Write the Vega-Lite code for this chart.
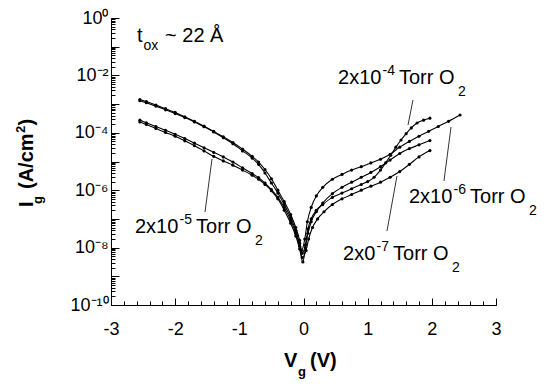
{
  "$schema": "https://vega.github.io/schema/vega-lite/v6.json",
  "width": 385,
  "height": 287,
  "autosize": {"type": "none"},
  "padding": {"left": 111, "top": 18, "right": 49, "bottom": 80},
  "background": "white",
  "config": {
    "view": {"stroke": null},
    "font": "Liberation Sans",
    "axis": {"grid": false, "domainColor": "black", "tickColor": "black", "labelColor": "black", "labelFont": "Liberation Sans", "domainWidth": 1, "tickWidth": 1}
  },
  "datasets": {
    "curves": [
      {"s": "2x10-4", "v": -2.55, "i": 1.318e-3}, {"s": "2x10-4", "v": -2.45, "i": 1.122e-3}, {"s": "2x10-4", "v": -2.3, "i": 8.511e-4}, {"s": "2x10-4", "v": -2.15, "i": 6.31e-4}, {"s": "2x10-4", "v": -2.0, "i": 4.677e-4}, {"s": "2x10-4", "v": -1.85, "i": 3.388e-4}, {"s": "2x10-4", "v": -1.7, "i": 2.399e-4}, {"s": "2x10-4", "v": -1.55, "i": 1.622e-4}, {"s": "2x10-4", "v": -1.4, "i": 1.072e-4}, {"s": "2x10-4", "v": -1.25, "i": 6.761e-5}, {"s": "2x10-4", "v": -1.1, "i": 4.169e-5}, {"s": "2x10-4", "v": -0.95, "i": 2.344e-5}, {"s": "2x10-4", "v": -0.8, "i": 1.318e-5}, {"s": "2x10-4", "v": -0.7, "i": 7.943e-6}, {"s": "2x10-4", "v": -0.6, "i": 3.981e-6}, {"s": "2x10-4", "v": -0.5, "i": 1.778e-6}, {"s": "2x10-4", "v": -0.4, "i": 7.943e-7}, {"s": "2x10-4", "v": -0.3, "i": 3.162e-7}, {"s": "2x10-4", "v": -0.2, "i": 1.122e-7}, {"s": "2x10-4", "v": -0.12, "i": 3.981e-8}, {"s": "2x10-4", "v": -0.06, "i": 1.413e-8}, {"s": "2x10-4", "v": -0.02, "i": 6.31e-9},
      {"s": "2x10-4", "v": 0.03, "i": 1.259e-8}, {"s": "2x10-4", "v": 0.07, "i": 4.467e-8}, {"s": "2x10-4", "v": 0.12, "i": 1.0e-7}, {"s": "2x10-4", "v": 0.2, "i": 1.995e-7}, {"s": "2x10-4", "v": 0.3, "i": 3.162e-7}, {"s": "2x10-4", "v": 0.45, "i": 5.623e-7}, {"s": "2x10-4", "v": 0.6, "i": 7.943e-7}, {"s": "2x10-4", "v": 0.75, "i": 1.122e-6}, {"s": "2x10-4", "v": 0.9, "i": 1.585e-6}, {"s": "2x10-4", "v": 1.0, "i": 1.995e-6}, {"s": "2x10-4", "v": 1.1, "i": 2.818e-6}, {"s": "2x10-4", "v": 1.2, "i": 5.012e-6}, {"s": "2x10-4", "v": 1.28, "i": 8.913e-6}, {"s": "2x10-4", "v": 1.36, "i": 1.66e-5}, {"s": "2x10-4", "v": 1.44, "i": 3.162e-5}, {"s": "2x10-4", "v": 1.52, "i": 5.623e-5}, {"s": "2x10-4", "v": 1.6, "i": 9.333e-5}, {"s": "2x10-4", "v": 1.68, "i": 1.479e-4}, {"s": "2x10-4", "v": 1.77, "i": 2.188e-4}, {"s": "2x10-4", "v": 1.87, "i": 2.754e-4}, {"s": "2x10-4", "v": 1.97, "i": 3.236e-4},

      {"s": "2x10-6", "v": -2.55, "i": 1.445e-3}, {"s": "2x10-6", "v": -2.45, "i": 1.23e-3}, {"s": "2x10-6", "v": -2.3, "i": 9.333e-4}, {"s": "2x10-6", "v": -2.15, "i": 6.918e-4}, {"s": "2x10-6", "v": -2.0, "i": 5.129e-4}, {"s": "2x10-6", "v": -1.85, "i": 3.631e-4}, {"s": "2x10-6", "v": -1.7, "i": 2.512e-4}, {"s": "2x10-6", "v": -1.55, "i": 1.698e-4}, {"s": "2x10-6", "v": -1.4, "i": 1.122e-4}, {"s": "2x10-6", "v": -1.25, "i": 7.244e-5}, {"s": "2x10-6", "v": -1.1, "i": 4.571e-5}, {"s": "2x10-6", "v": -0.95, "i": 2.692e-5}, {"s": "2x10-6", "v": -0.8, "i": 1.514e-5}, {"s": "2x10-6", "v": -0.7, "i": 9.55e-6}, {"s": "2x10-6", "v": -0.6, "i": 5.248e-6}, {"s": "2x10-6", "v": -0.5, "i": 2.512e-6}, {"s": "2x10-6", "v": -0.4, "i": 1.0e-6}, {"s": "2x10-6", "v": -0.3, "i": 3.981e-7}, {"s": "2x10-6", "v": -0.2, "i": 1.413e-7}, {"s": "2x10-6", "v": -0.12, "i": 5.012e-8}, {"s": "2x10-6", "v": -0.06, "i": 1.778e-8}, {"s": "2x10-6", "v": -0.03, "i": 7.943e-9},
      {"s": "2x10-6", "v": 0.02, "i": 1.995e-8}, {"s": "2x10-6", "v": 0.06, "i": 7.943e-8}, {"s": "2x10-6", "v": 0.12, "i": 2.512e-7}, {"s": "2x10-6", "v": 0.2, "i": 6.31e-7}, {"s": "2x10-6", "v": 0.3, "i": 1.259e-6}, {"s": "2x10-6", "v": 0.45, "i": 2.399e-6}, {"s": "2x10-6", "v": 0.6, "i": 3.548e-6}, {"s": "2x10-6", "v": 0.75, "i": 5.012e-6}, {"s": "2x10-6", "v": 0.9, "i": 6.607e-6}, {"s": "2x10-6", "v": 1.05, "i": 8.913e-6}, {"s": "2x10-6", "v": 1.2, "i": 1.202e-5}, {"s": "2x10-6", "v": 1.35, "i": 1.778e-5}, {"s": "2x10-6", "v": 1.5, "i": 3.162e-5}, {"s": "2x10-6", "v": 1.65, "i": 5.012e-5}, {"s": "2x10-6", "v": 1.8, "i": 7.586e-5}, {"s": "2x10-6", "v": 1.95, "i": 1.122e-4}, {"s": "2x10-6", "v": 2.1, "i": 1.66e-4}, {"s": "2x10-6", "v": 2.26, "i": 2.512e-4}, {"s": "2x10-6", "v": 2.44, "i": 4.169e-4},

      {"s": "2x10-5", "v": -2.55, "i": 2.399e-4}, {"s": "2x10-5", "v": -2.45, "i": 1.95e-4}, {"s": "2x10-5", "v": -2.3, "i": 1.413e-4}, {"s": "2x10-5", "v": -2.15, "i": 1.023e-4}, {"s": "2x10-5", "v": -2.0, "i": 7.586e-5}, {"s": "2x10-5", "v": -1.85, "i": 5.248e-5}, {"s": "2x10-5", "v": -1.7, "i": 3.548e-5}, {"s": "2x10-5", "v": -1.55, "i": 2.344e-5}, {"s": "2x10-5", "v": -1.4, "i": 1.514e-5}, {"s": "2x10-5", "v": -1.25, "i": 1.047e-5}, {"s": "2x10-5", "v": -1.1, "i": 7.413e-6}, {"s": "2x10-5", "v": -0.95, "i": 5.012e-6}, {"s": "2x10-5", "v": -0.8, "i": 3.311e-6}, {"s": "2x10-5", "v": -0.7, "i": 2.399e-6}, {"s": "2x10-5", "v": -0.6, "i": 1.585e-6}, {"s": "2x10-5", "v": -0.5, "i": 9.55e-7}, {"s": "2x10-5", "v": -0.4, "i": 5.012e-7}, {"s": "2x10-5", "v": -0.3, "i": 1.995e-7}, {"s": "2x10-5", "v": -0.2, "i": 7.079e-8}, {"s": "2x10-5", "v": -0.12, "i": 2.512e-8}, {"s": "2x10-5", "v": -0.06, "i": 8.913e-9}, {"s": "2x10-5", "v": -0.01, "i": 3.162e-9},
      {"s": "2x10-5", "v": 0.03, "i": 1.0e-8}, {"s": "2x10-5", "v": 0.07, "i": 3.162e-8}, {"s": "2x10-5", "v": 0.12, "i": 7.943e-8}, {"s": "2x10-5", "v": 0.2, "i": 1.778e-7}, {"s": "2x10-5", "v": 0.3, "i": 3.548e-7}, {"s": "2x10-5", "v": 0.45, "i": 7.586e-7}, {"s": "2x10-5", "v": 0.6, "i": 1.259e-6}, {"s": "2x10-5", "v": 0.75, "i": 1.905e-6}, {"s": "2x10-5", "v": 0.9, "i": 2.818e-6}, {"s": "2x10-5", "v": 1.05, "i": 4.169e-6}, {"s": "2x10-5", "v": 1.2, "i": 6.607e-6}, {"s": "2x10-5", "v": 1.35, "i": 1.122e-5}, {"s": "2x10-5", "v": 1.5, "i": 1.905e-5}, {"s": "2x10-5", "v": 1.65, "i": 2.818e-5}, {"s": "2x10-5", "v": 1.8, "i": 3.802e-5}, {"s": "2x10-5", "v": 1.97, "i": 5.37e-5},

      {"s": "2x10-7", "v": -2.55, "i": 2.754e-4}, {"s": "2x10-7", "v": -2.45, "i": 2.239e-4}, {"s": "2x10-7", "v": -2.3, "i": 1.66e-4}, {"s": "2x10-7", "v": -2.15, "i": 1.23e-4}, {"s": "2x10-7", "v": -2.0, "i": 8.913e-5}, {"s": "2x10-7", "v": -1.85, "i": 6.31e-5}, {"s": "2x10-7", "v": -1.7, "i": 4.365e-5}, {"s": "2x10-7", "v": -1.55, "i": 3.02e-5}, {"s": "2x10-7", "v": -1.4, "i": 2.089e-5}, {"s": "2x10-7", "v": -1.25, "i": 1.445e-5}, {"s": "2x10-7", "v": -1.1, "i": 9.55e-6}, {"s": "2x10-7", "v": -0.95, "i": 6.026e-6}, {"s": "2x10-7", "v": -0.8, "i": 3.802e-6}, {"s": "2x10-7", "v": -0.7, "i": 2.754e-6}, {"s": "2x10-7", "v": -0.6, "i": 1.778e-6}, {"s": "2x10-7", "v": -0.5, "i": 1.047e-6}, {"s": "2x10-7", "v": -0.4, "i": 5.623e-7}, {"s": "2x10-7", "v": -0.3, "i": 2.512e-7}, {"s": "2x10-7", "v": -0.2, "i": 8.913e-8}, {"s": "2x10-7", "v": -0.12, "i": 3.162e-8}, {"s": "2x10-7", "v": -0.06, "i": 1.122e-8}, {"s": "2x10-7", "v": -0.02, "i": 4.467e-9},
      {"s": "2x10-7", "v": 0.04, "i": 7.943e-9}, {"s": "2x10-7", "v": 0.08, "i": 1.995e-8}, {"s": "2x10-7", "v": 0.14, "i": 5.012e-8}, {"s": "2x10-7", "v": 0.22, "i": 1.0e-7}, {"s": "2x10-7", "v": 0.32, "i": 1.778e-7}, {"s": "2x10-7", "v": 0.45, "i": 3.162e-7}, {"s": "2x10-7", "v": 0.6, "i": 5.012e-7}, {"s": "2x10-7", "v": 0.75, "i": 7.079e-7}, {"s": "2x10-7", "v": 0.9, "i": 1.0e-6}, {"s": "2x10-7", "v": 1.05, "i": 1.38e-6}, {"s": "2x10-7", "v": 1.2, "i": 1.905e-6}, {"s": "2x10-7", "v": 1.35, "i": 2.818e-6}, {"s": "2x10-7", "v": 1.5, "i": 4.467e-6}, {"s": "2x10-7", "v": 1.65, "i": 7.943e-6}, {"s": "2x10-7", "v": 1.8, "i": 1.445e-5}, {"s": "2x10-7", "v": 1.97, "i": 2.399e-5}
    ],
    "words": [
      {"v": -2.595, "i": 0.146, "t": "t"},
      {"v": -2.158, "i": 0.146, "t": "~ 22 Å"},
      {"v": 0.538, "i": 5.01e-3, "t": "2x10"},
      {"v": 1.488, "i": 5.01e-3, "t": "Torr O"},
      {"v": 1.644, "i": 3.58e-7, "t": "2x10"},
      {"v": 2.595, "i": 3.58e-7, "t": "Torr O"},
      {"v": -2.626, "i": 3.228e-8, "t": "2x10"},
      {"v": -1.675, "i": 3.228e-8, "t": "Torr O"},
      {"v": 0.616, "i": 3.7e-9, "t": "2x0"},
      {"v": 1.395, "i": 3.7e-9, "t": "Torr O"}
    ],
    "scripts": [
      {"v": -2.493, "i": 0.0767, "t": "ox"},
      {"v": 1.231, "i": 1.033e-2, "t": "-4"},
      {"v": 2.408, "i": 1.914e-3, "t": "2"},
      {"v": 2.338, "i": 7.38e-7, "t": "-6"},
      {"v": 3.514, "i": 1.368e-7, "t": "2"},
      {"v": -1.932, "i": 6.637e-8, "t": "-5"},
      {"v": -0.756, "i": 1.233e-8, "t": "2"},
      {"v": 1.138, "i": 7.62e-9, "t": "-7"},
      {"v": 2.314, "i": 1.413e-9, "t": "2"}
    ],
    "pointers": [
      {"v": 1.706, "i": 1.39e-3, "v2": 1.629, "i2": 1.87e-4},
      {"v": 2.189, "i": 2.094e-6, "v2": 2.299, "i2": 1.592e-4},
      {"v": -1.535, "i": 1.738e-7, "v2": -1.426, "i2": 1.222e-5},
      {"v": 1.301, "i": 3.78e-8, "v2": 1.457, "i2": 3.126e-6}
    ],
    "xtitle": [
      {"v": -0.304, "i": 6.92e-13, "t": "V"},
      {"v": 0.101, "i": 6.92e-13, "t": "(V)"}
    ],
    "xtitlesub": [
      {"v": -0.086, "i": 3.36e-13, "t": "g"}
    ],
    "ytitle": [
      {"v": -4.215, "i": 2.6e-7, "t": "I"},
      {"v": -4.215, "i": 1.1e-6, "t": "(A/cm"},
      {"v": -4.215, "i": 1.795e-4, "t": ")"}
    ],
    "ytitlesub": [
      {"v": -4.075, "i": 3.3e-7, "t": "g"},
      {"v": -4.34, "i": 9.84e-5, "t": "2"}
    ]
  },
  "layer": [
    {
      "data": {"name": "curves"},
      "mark": {"type": "line", "interpolate": "monotone", "color": "black", "strokeWidth": 1.1},
      "encoding": {
        "x": {"field": "v", "type": "quantitative", "scale": {"domain": [-3, 3], "nice": false, "zero": false},
          "axis": {"orient": "bottom", "values": [-3, -2, -1, 0, 1, 2, 3], "tickSize": -7, "labelPadding": 22, "labelExpr": "'' + datum.value", "labelFontSize": 18, "labelFlush": false, "labelOverlap": false, "title": null}},
        "y": {"field": "i", "type": "quantitative", "scale": {"type": "log", "domain": [1e-10, 1], "nice": false},
          "axis": {"orient": "left", "values": [1e-10, 1e-9, 1e-8, 1e-7, 1e-6, 1e-5, 1e-4, 1e-3, 1e-2, 1e-1, 1], "tickSize": -8, "labelPadding": 11, "labelExpr": "['10⁻¹⁰','','10⁻⁸','','10⁻⁶','','10⁻⁴','','10⁻²','','10⁰'][round(log(datum.value)/LN10)+10]", "labelFontSize": 18, "labelFlush": false, "labelOverlap": false, "title": null}},
        "detail": {"field": "s"}
      }
    },
    {
      "data": {"name": "curves"},
      "mark": {"type": "point", "filled": true, "color": "black", "size": 10, "opacity": 1},
      "encoding": {
        "x": {"field": "v", "type": "quantitative", "scale": {"domain": [-3, 3], "nice": false, "zero": false},
          "axis": {"orient": "bottom", "tickCount": 30, "tickSize": -4, "labels": false, "domain": false, "title": null}},
        "y": {"field": "i", "type": "quantitative", "scale": {"type": "log", "domain": [1e-10, 1], "nice": false},
          "axis": {"orient": "left", "tickCount": 100, "tickSize": -4, "labels": false, "domain": false, "title": null}}
      }
    },
    {
      "data": {"name": "pointers"},
      "mark": {"type": "rule", "color": "black", "strokeWidth": 0.8},
      "encoding": {
        "x": {"field": "v", "type": "quantitative", "scale": {"domain": [-3, 3], "nice": false, "zero": false}, "axis": null},
        "y": {"field": "i", "type": "quantitative", "scale": {"type": "log", "domain": [1e-10, 1], "nice": false}, "axis": null},
        "x2": {"field": "v2"},
        "y2": {"field": "i2"}
      }
    },
    {
      "data": {"name": "words"},
      "mark": {"type": "text", "align": "left", "baseline": "alphabetic", "fontSize": 20, "font": "Liberation Sans", "color": "black"},
      "encoding": {
        "x": {"field": "v", "type": "quantitative", "scale": {"domain": [-3, 3], "nice": false, "zero": false}, "axis": null},
        "y": {"field": "i", "type": "quantitative", "scale": {"type": "log", "domain": [1e-10, 1], "nice": false}, "axis": null},
        "text": {"field": "t"}
      }
    },
    {
      "data": {"name": "scripts"},
      "mark": {"type": "text", "align": "left", "baseline": "alphabetic", "fontSize": 14, "font": "Liberation Sans", "color": "black"},
      "encoding": {
        "x": {"field": "v", "type": "quantitative", "scale": {"domain": [-3, 3], "nice": false, "zero": false}, "axis": null},
        "y": {"field": "i", "type": "quantitative", "scale": {"type": "log", "domain": [1e-10, 1], "nice": false}, "axis": null},
        "text": {"field": "t"}
      }
    },
    {
      "data": {"name": "xtitle"},
      "mark": {"type": "text", "align": "left", "baseline": "alphabetic", "fontSize": 20, "fontWeight": "bold", "font": "Liberation Sans", "color": "black"},
      "encoding": {
        "x": {"field": "v", "type": "quantitative", "scale": {"domain": [-3, 3], "nice": false, "zero": false}, "axis": null},
        "y": {"field": "i", "type": "quantitative", "scale": {"type": "log", "domain": [1e-10, 1], "nice": false}, "axis": null},
        "text": {"field": "t"}
      }
    },
    {
      "data": {"name": "xtitlesub"},
      "mark": {"type": "text", "align": "left", "baseline": "alphabetic", "fontSize": 13, "fontWeight": "bold", "font": "Liberation Sans", "color": "black"},
      "encoding": {
        "x": {"field": "v", "type": "quantitative", "scale": {"domain": [-3, 3], "nice": false, "zero": false}, "axis": null},
        "y": {"field": "i", "type": "quantitative", "scale": {"type": "log", "domain": [1e-10, 1], "nice": false}, "axis": null},
        "text": {"field": "t"}
      }
    },
    {
      "data": {"name": "ytitle"},
      "mark": {"type": "text", "align": "left", "baseline": "alphabetic", "angle": 270, "fontSize": 20, "fontWeight": "bold", "font": "Liberation Sans", "color": "black"},
      "encoding": {
        "x": {"field": "v", "type": "quantitative", "scale": {"domain": [-3, 3], "nice": false, "zero": false}, "axis": null},
        "y": {"field": "i", "type": "quantitative", "scale": {"type": "log", "domain": [1e-10, 1], "nice": false}, "axis": null},
        "text": {"field": "t"}
      }
    },
    {
      "data": {"name": "ytitlesub"},
      "mark": {"type": "text", "align": "left", "baseline": "alphabetic", "angle": 270, "fontSize": 13, "fontWeight": "bold", "font": "Liberation Sans", "color": "black"},
      "encoding": {
        "x": {"field": "v", "type": "quantitative", "scale": {"domain": [-3, 3], "nice": false, "zero": false}, "axis": null},
        "y": {"field": "i", "type": "quantitative", "scale": {"type": "log", "domain": [1e-10, 1], "nice": false}, "axis": null},
        "text": {"field": "t"}
      }
    }
  ],
  "resolve": {"axis": {"x": "independent", "y": "independent"}}
}
